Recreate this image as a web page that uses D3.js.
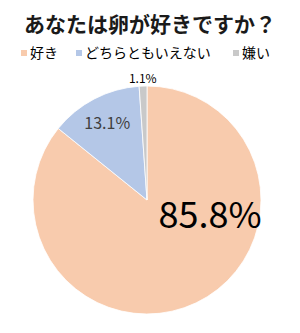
<!DOCTYPE html>
<html>
<head>
<meta charset="utf-8">
<script src="https://cdn.jsdelivr.net/npm/d3@7"></script>
<style>
  body { margin: 0; background: #fff; }
  text { font-family: "Noto Sans CJK JP", "Noto Sans", sans-serif; }
</style>
</head>
<body>
<div id="chart"></div>
<script>
var title = "あなたは卵が好きですか？"
var categories = ["好き", "どちらともいえない", "嫌い"]
var values = [85.8, 13.1, 1.1]
var colors = ["#F8CBAD", "#B4C7E7", "#C9C9C9"]

var width = 300, height = 333
var cx = 147, cy = 200, radius = 114

var svg = d3.select("#chart")
    .append("svg")
    .attr("width", width)
    .attr("height", height)

// title
svg.append("text")
    .attr("x", 150)
    .attr("y", 32)
    .attr("text-anchor", "middle")
    .style("font-size", "21px")
    .style("font-weight", "bold")
    .attr("fill", "#1a1a1a")
    .text(title)

// legend
var legendX = [21, 76, 233]
var legend = svg.selectAll(".legend")
    .data(categories)
    .enter().append("g")
    .attr("class", "legend")
    .attr("transform", (d, i) => "translate(" + legendX[i] + ",53)")

legend.append("rect")
    .attr("x", 0)
    .attr("y", -3)
    .attr("width", 6)
    .attr("height", 6)
    .attr("fill", (d, i) => colors[i])

legend.append("text")
    .attr("x", 9)
    .attr("y", 5)
    .style("font-size", "14px")
    .attr("fill", "#000")
    .text(d => d)

// pie, clockwise from 12 o'clock
var pie = d3.pie().sort(null).value(d => d)
var arcs = pie(values)

var arc = d3.arc().innerRadius(0).outerRadius(radius)

var g = svg.append("g")
    .attr("transform", "translate(" + cx + "," + cy + ")")

g.selectAll(".slice")
    .data(arcs)
    .enter().append("path")
    .attr("class", "slice")
    .attr("d", arc)
    .attr("fill", (d, i) => colors[i])
    .attr("stroke", "#fff")
    .attr("stroke-width", 0.8)

// labels
var labelRadius = [65, 86, 121]
var labelSize = [36, 16, 12]
g.selectAll(".label")
    .data(arcs)
    .enter().append("text")
    .attr("class", "label")
    .attr("transform", (d, i) => {
        var a = (d.startAngle + d.endAngle) / 2
        if (i === 0) a = 104 * Math.PI / 180 // best fit spot like excel
        var r = labelRadius[i]
        return "translate(" + (Math.sin(a) * r) + "," + (-Math.cos(a) * r) + ")"
    })
    .attr("text-anchor", "middle")
    .attr("dy", "0.35em")
    .style("font-size", (d, i) => labelSize[i] + "px")
    .attr("fill", (d, i) => i === 1 ? "#404040" : "#000")
    .text(d => d.data.toFixed(1) + "%")
</script>
</body>
</html>
